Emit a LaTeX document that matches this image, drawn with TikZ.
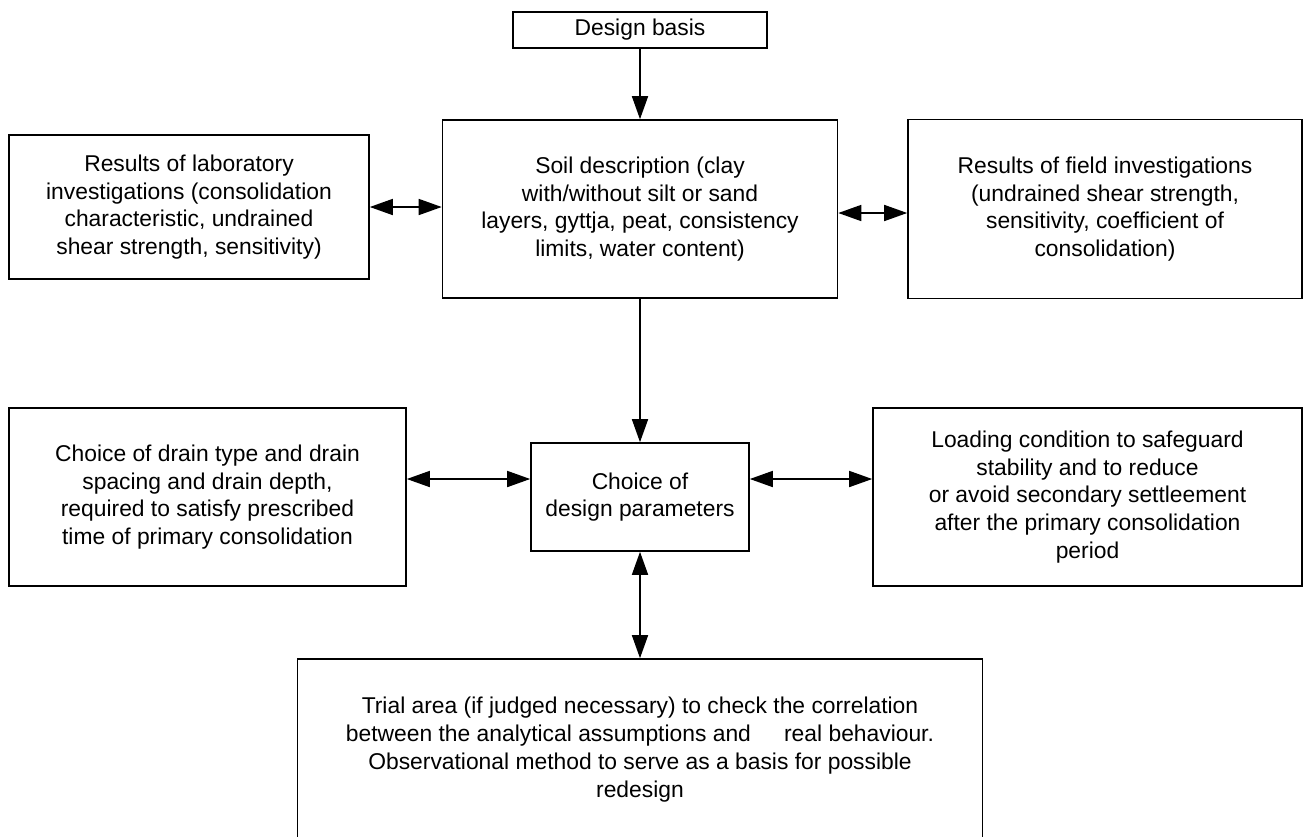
\documentclass[tikz,border=0pt]{standalone}
\usepackage{fontspec}
\setmainfont{Liberation Sans}
\usetikzlibrary{arrows.meta}

\newcommand{\pxu}{0.02cm}

\begin{document}
\begin{tikzpicture}[x=0.02cm, y=-0.02cm,
  box/.style={draw, line width=0.9pt, rectangle, align=center, inner sep=0pt,
    font=\fontsize{13pt}{15.8pt}\selectfont},
  link/.style={line width=0.9pt, -{Triangle[length=0.46cm,width=0.32cm]}},
  twoway/.style={line width=0.9pt,
    {Triangle[length=0.46cm,width=0.32cm]}-{Triangle[length=0.46cm,width=0.32cm]}}]

\useasboundingbox (0,0) rectangle (1306,836);

% top row
\node[box, minimum width=254*\pxu, minimum height=36*\pxu] (basis) at (640,30) {Design basis};

\node[box, minimum width=395*\pxu, minimum height=178*\pxu] (soil) at (640,209)
  {Soil description (clay\\ with/without silt or sand\\ layers, gyttja, peat, consistency\\ limits, water content)};

\node[box, minimum width=360*\pxu, minimum height=144*\pxu] (lab) at (189,207)
  {Results of laboratory\\ investigations (consolidation\\ characteristic, undrained\\ shear strength, sensitivity)};

\node[box, minimum width=394*\pxu, minimum height=179*\pxu] (field) at (1105,209)
  {Results of field investigations\\ (undrained shear strength,\\ sensitivity, coefficient of\\ consolidation)};

% middle row
\node[box, minimum width=218*\pxu, minimum height=108*\pxu] (choice) at (640,497)
  {Choice of\\ design parameters};

\node[box, minimum width=397*\pxu, minimum height=178*\pxu] (drain) at (207.5,497)
  {Choice of drain type and drain\\ spacing and drain depth,\\ required to satisfy prescribed\\ time of primary consolidation};

\node[box, minimum width=429*\pxu, minimum height=178*\pxu] (loading) at (1087.5,497)
  {Loading condition to safeguard\\ stability and to reduce\\ or avoid secondary settleement\\ after the primary consolidation\\ period};

% bottom box, runs off the page
\node[box, minimum width=685*\pxu, minimum height=181*\pxu] (trial) at (640,749.5)
  {Trial area (if judged necessary) to check the correlation\\ between the analytical assumptions and \hspace{0.9em} real behaviour.\\ Observational method to serve as a basis for possible\\ redesign};

% connectors
\draw[link] (basis) -- (soil);
\draw[link] (soil) -- (choice);
\draw[twoway] (choice) -- (trial);
\draw[twoway] (lab.east) -- ([yshift=0.04cm]soil.west);
\draw[twoway] ([yshift=-0.08cm]soil.east) -- ([yshift=-0.08cm]field.west);
\draw[twoway] ([yshift=0.36cm]drain.east) -- ([yshift=0.36cm]choice.west);
\draw[twoway] ([yshift=0.36cm]choice.east) -- ([yshift=0.36cm]loading.west);

\end{tikzpicture}
\end{document}
